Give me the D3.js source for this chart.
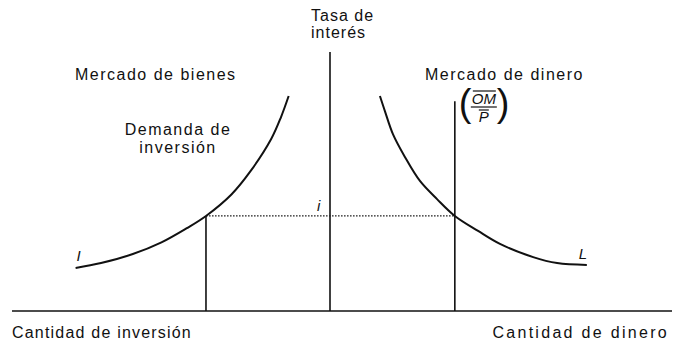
<!DOCTYPE html>
<html>
<head>
<meta charset="utf-8">
<script src="https://cdn.jsdelivr.net/npm/d3@7"></script>
<style>
  body { margin: 0; background: #fff; }
  svg text { font-family: "Liberation Sans", Arial, Helvetica, sans-serif; fill: #111; }
</style>
</head>
<body>
<div id="chart"></div>
<script>
// investment demand (left panel, quantity grows to the left)
const invQty = [13, 15.4, 18.5, 25, 31, 39, 45, 53, 62, 72, 80];
const invRate = [83, 74.9, 66.4, 54, 45, 36.7, 32, 26.5, 22, 18.5, 16.6];

// money demand L (right panel)
const moneyQty = [14.6, 16.1, 18.4, 21.9, 26.3, 31.3, 36.5, 43.3, 49.7, 59.4, 66.4, 75.1];
const moneyRate = [83, 77, 68.3, 59.5, 50.2, 43.2, 36.7, 30.9, 25.9, 20.8, 18.5, 17.8];

const eqRate = 36.7;      // i
const eqInv = 39;         // investment at i
const moneySupply = 36.5; // OM/P
const moneySupplyTop = 81;

const width = 677, height = 350;

const svg = d3.select("#chart").append("svg")
  .attr("width", width)
  .attr("height", height);

// Scales
const y = d3.scaleLinear().domain([0, 100]).range([311, 52]);
const xInv = d3.scaleLinear().domain([0, 100]).range([330, 12]);
const xMoney = d3.scaleLinear().domain([0, 100]).range([330, 672]);

// Axes
svg.append("line")
  .attr("x1", xInv(100)).attr("x2", xMoney(100))
  .attr("y1", y(0)).attr("y2", y(0))
  .attr("stroke", "#111").attr("stroke-width", 1.6);

svg.append("line")
  .attr("x1", xInv(0)).attr("x2", xInv(0))
  .attr("y1", y(0)).attr("y2", y(100))
  .attr("stroke", "#111").attr("stroke-width", 1.6);

// Equilibrium dotted line
svg.append("line")
  .attr("x1", xInv(eqInv)).attr("x2", xMoney(moneySupply))
  .attr("y1", y(eqRate)).attr("y2", y(eqRate))
  .attr("stroke", "#222").attr("stroke-width", 1.3)
  .attr("stroke-dasharray", "1.6,1.4");

// Drop line for investment
svg.append("line")
  .attr("x1", xInv(eqInv)).attr("x2", xInv(eqInv))
  .attr("y1", y(eqRate)).attr("y2", y(0))
  .attr("stroke", "#111").attr("stroke-width", 1.6);

// Money supply
svg.append("line")
  .attr("x1", xMoney(moneySupply)).attr("x2", xMoney(moneySupply))
  .attr("y1", y(moneySupplyTop)).attr("y2", y(0))
  .attr("stroke", "#111").attr("stroke-width", 1.6);

// Curves
const invData = invQty.map((q, i) => ({ q, r: invRate[i] }));
const moneyData = moneyQty.map((q, i) => ({ q, r: moneyRate[i] }));

const invLine = d3.line()
  .x(d => xInv(d.q))
  .y(d => y(d.r))
  .curve(d3.curveCatmullRom);

const moneyLine = d3.line()
  .x(d => xMoney(d.q))
  .y(d => y(d.r))
  .curve(d3.curveCatmullRom);

svg.append("path")
  .datum(invData)
  .attr("fill", "none")
  .attr("stroke", "#111")
  .attr("stroke-width", 2)
  .attr("d", invLine);

svg.append("path")
  .datum(moneyData)
  .attr("fill", "none")
  .attr("stroke", "#111")
  .attr("stroke-width", 2)
  .attr("d", moneyLine);

// Labels
const label = (x, yy, txt, opts = {}) => svg.append("text")
  .attr("x", x).attr("y", yy)
  .attr("font-size", opts.size || 16)
  .attr("letter-spacing", opts.ls == null ? 1.5 : opts.ls)
  .attr("font-style", opts.italic ? "italic" : "normal")
  .attr("text-anchor", opts.anchor || "start")
  .text(txt);

label(311, 21, "Tasa de", { ls: 1 });
label(311, 38, "interés", { ls: 1 });

label(75, 80, "Mercado de bienes");
label(178, 135, "Demanda de", { anchor: "middle" });
label(178, 153, "inversión", { anchor: "middle" });

label(425, 80, "Mercado de dinero");

label(12, 338, "Cantidad de inversión", { ls: 1.2 });
label(669, 338, "Cantidad de dinero", { anchor: "end", ls: 2.3 });

// curve and rate tags
const lastInv = invData[invData.length - 1];
label(xInv(lastInv.q) + 1, y(lastInv.r) - 7, "I", { italic: true, size: 15, ls: 0 });
const lastMoney = moneyData[moneyData.length - 1];
label(xMoney(lastMoney.q) - 8, y(lastMoney.r) - 6, "L", { italic: true, size: 15, ls: 0 });
label(xInv(0) - 13, y(eqRate) - 5, "i", { italic: true, size: 15, ls: 0 });

// (OM / P) tag beside the money supply line
const fx = xMoney(moneySupply) + 4;
const fy = 104;
svg.append("text")
  .attr("x", fx).attr("y", fy + 12)
  .attr("font-size", 38)
  .attr("font-weight", 300)
  .text("(");
svg.append("text")
  .attr("x", fx + 38).attr("y", fy + 12)
  .attr("font-size", 38)
  .attr("font-weight", 300)
  .text(")");
svg.append("text")
  .attr("x", fx + 25).attr("y", fy)
  .attr("font-size", 15)
  .attr("font-style", "italic")
  .attr("text-anchor", "middle")
  .text("OM");
svg.append("line")
  .attr("x1", fx + 14).attr("x2", fx + 37)
  .attr("y1", fy - 13).attr("y2", fy - 13)
  .attr("stroke", "#111").attr("stroke-width", 1.2);
svg.append("line")
  .attr("x1", fx + 12).attr("x2", fx + 38)
  .attr("y1", fy + 3).attr("y2", fy + 3)
  .attr("stroke", "#111").attr("stroke-width", 1.2);
svg.append("line")
  .attr("x1", fx + 20).attr("x2", fx + 30)
  .attr("y1", fy + 6).attr("y2", fy + 6)
  .attr("stroke", "#111").attr("stroke-width", 1.2);
svg.append("text")
  .attr("x", fx + 25).attr("y", fy + 18)
  .attr("font-size", 15)
  .attr("font-style", "italic")
  .attr("text-anchor", "middle")
  .text("P");
</script>
</body>
</html>
